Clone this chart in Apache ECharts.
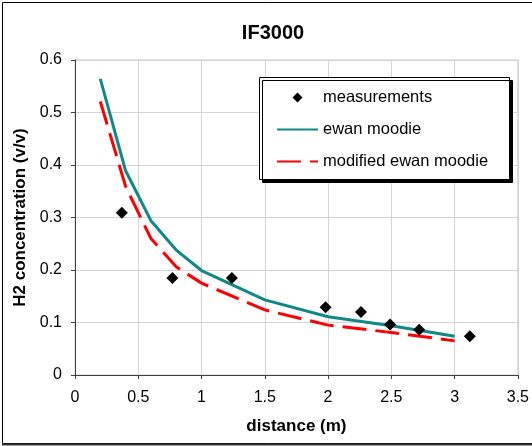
<!DOCTYPE html>
<html>
<head>
<meta charset="utf-8">
<script src="https://cdn.jsdelivr.net/npm/echarts@6/dist/echarts.min.js"></script>
<style>
  html, body { margin: 0; padding: 0; background: #fff; }
  #chart { width: 532px; height: 446px; }
</style>
</head>
<body>
<div id="chart"></div>
<script>
// measured points
const measX = [0.37, 0.77, 1.24, 1.98, 2.26, 2.49, 2.72, 3.12];
const measY = [0.309, 0.185, 0.185, 0.129, 0.120, 0.096, 0.086, 0.074];

// model curves
const modelX = [0.2, 0.4, 0.6, 0.8, 1.0, 1.5, 2.0, 2.5, 3.0];
const ewanY = [0.564, 0.389, 0.294, 0.238, 0.199, 0.143, 0.111, 0.094, 0.074];
const modifiedY = [0.521, 0.359, 0.260, 0.206, 0.175, 0.124, 0.095, 0.081, 0.065];

const xTicks = { min: 0, max: 3.5, interval: 0.5 };
const yTicks = { min: 0, max: 0.6, interval: 0.1 };

const font = "'Liberation Sans', Arial, sans-serif";

function pairs(xs, ys) {
  return xs.map((x, i) => [x, ys[i]]);
}

// diamond in the middle of a 41x10 legend slot, so it is not stretched
const legendDiamond = 'path://M0,0 M41,10 M20.5,0 L25.5,5 L20.5,10 L15.5,5 Z';

const chart = echarts.init(document.getElementById('chart'));

const option = {
  backgroundColor: '#fff',
  animation: false,
  title: {
    text: 'IF3000',
    left: 268,
    top: 18,
    textAlign: 'center',
    textStyle: { fontFamily: font, fontSize: 20, fontWeight: 'bold', color: '#000' }
  },
  grid: {
    left: 75, top: 60, right: 13, bottom: 71,
    show: true,
    borderColor: '#c8c8c8',
    borderWidth: 1
  },
  legend: {
    orient: 'vertical',
    left: 276,
    top: 89,
    padding: 0,
    itemWidth: 41,
    itemHeight: 10,
    itemGap: 15,
    textStyle: { fontFamily: font, fontSize: 16.5, color: '#000' },
    data: [
      { name: 'measurements', icon: legendDiamond },
      { name: 'ewan moodie', itemStyle: { opacity: 0 } },
      { name: 'modified ewan moodie', itemStyle: { opacity: 0 } }
    ]
  },
  xAxis: {
    type: 'value',
    min: xTicks.min, max: xTicks.max, interval: xTicks.interval,
    name: 'distance (m)',
    nameLocation: 'middle',
    nameGap: 43,
    nameTextStyle: { fontFamily: font, fontSize: 17, fontWeight: 'bold', color: '#000' },
    axisLine: { lineStyle: { color: '#404040', width: 1 } },
    axisTick: { show: true, length: 4, lineStyle: { color: '#404040' } },
    axisLabel: { fontFamily: font, fontSize: 16, color: '#000', margin: 15 },
    splitLine: { show: true, lineStyle: { color: '#d4d4d4', width: 1 } }
  },
  yAxis: {
    type: 'value',
    min: yTicks.min, max: yTicks.max, interval: yTicks.interval,
    name: 'H2 concentration (v/v)',
    nameLocation: 'middle',
    nameGap: 43,
    nameTextStyle: { fontFamily: font, fontSize: 17, fontWeight: 'bold', color: '#000' },
    axisLine: { show: true, lineStyle: { color: '#404040', width: 1 } },
    axisTick: { show: true, length: 4, lineStyle: { color: '#404040' } },
    axisLabel: { fontFamily: font, fontSize: 16, color: '#000', margin: 13 },
    splitLine: { show: true, lineStyle: { color: '#d4d4d4', width: 1 } }
  },
  graphic: [
    {
      type: 'rect',
      shape: { x: 2.5, y: 2.5, width: 560, height: 441 },
      style: { fill: 'none', stroke: '#000', lineWidth: 1 },
      silent: true
    },
    {
      type: 'line',
      shape: { x1: 2, y1: 444.5, x2: 532, y2: 444.5 },
      style: { stroke: '#333', lineWidth: 2 },
      silent: true
    },
    {
      // legend frame with its hard drop shadow
      type: 'rect',
      z: 3,
      shape: { x: 259.5, y: 77.5, width: 250, height: 102 },
      style: {
        fill: '#fff', stroke: '#000', lineWidth: 1,
        shadowColor: '#000', shadowOffsetX: 3, shadowOffsetY: 3, shadowBlur: 0
      },
      silent: true
    }
  ],
  series: [
    {
      name: 'measurements',
      type: 'scatter',
      symbol: 'diamond',
      symbolSize: 12,
      itemStyle: { color: '#000', opacity: 1 },
      data: pairs(measX, measY),
      z: 5
    },
    {
      name: 'ewan moodie',
      type: 'line',
      symbol: 'none',
      lineStyle: { color: '#108888', width: 3 },
      itemStyle: { color: '#108888' },
      data: pairs(modelX, ewanY)
    },
    {
      name: 'modified ewan moodie',
      type: 'line',
      symbol: 'none',
      lineStyle: { color: '#ff0000', width: 3, type: [24, 9] },
      itemStyle: { color: '#ff0000' },
      data: pairs(modelX, modifiedY)
    }
  ]
};

chart.setOption(option);
</script>
</body>
</html>
